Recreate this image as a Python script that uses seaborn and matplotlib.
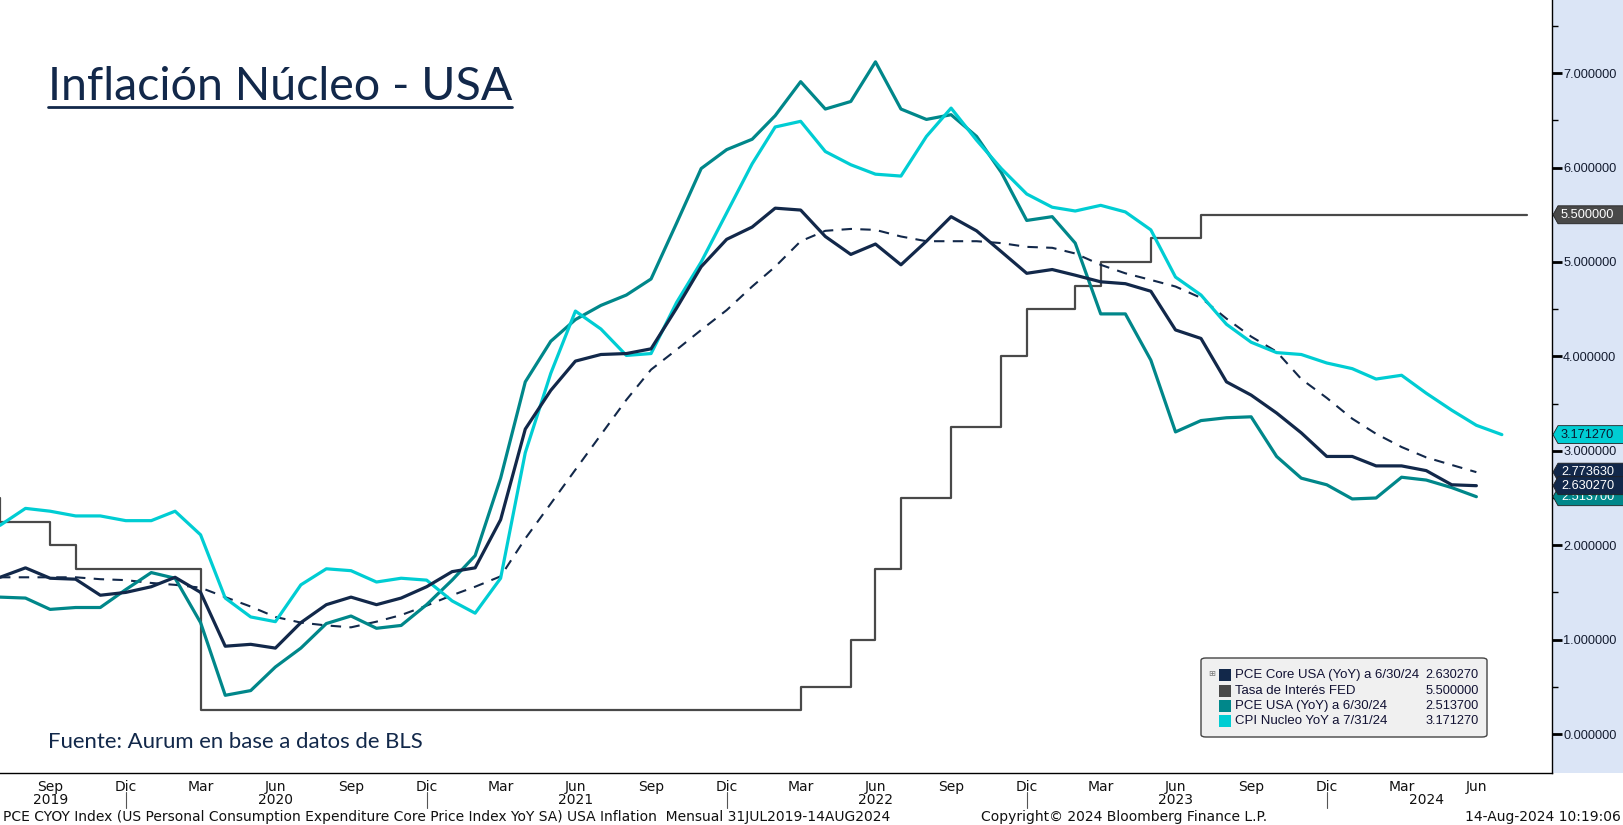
import numpy as np
import pandas as pd
import matplotlib
matplotlib.use("Agg")
import matplotlib.pyplot as plt
import matplotlib.dates as mdates
import matplotlib.transforms as mtransforms
from matplotlib.patches import Rectangle, Polygon, FancyBboxPatch
from matplotlib.lines import Line2D
from matplotlib import font_manager
import seaborn as sns

# ---------------- data ----------------
months = pd.date_range("2019-07-31", periods=61, freq="ME")          # Jul 2019 .. Jul 2024
fed_dates = pd.date_range("2019-06-30", periods=63, freq="ME")       # Jun 2019 .. Aug 2024

pce_core = [1.66, 1.76, 1.65, 1.64, 1.47, 1.50, 1.56, 1.66, 1.50, 0.93,
            0.95, 0.91, 1.18, 1.37, 1.45, 1.37, 1.44, 1.56, 1.72, 1.76,
            2.27, 3.23, 3.64, 3.95, 4.02, 4.03, 4.08, 4.51, 4.95, 5.24,
            5.37, 5.57, 5.55, 5.27, 5.08, 5.19, 4.97, 5.22, 5.48, 5.33,
            5.11, 4.88, 4.92, 4.86, 4.79, 4.77, 4.69, 4.28, 4.19, 3.73,
            3.59, 3.40, 3.19, 2.94, 2.94, 2.84, 2.84, 2.79, 2.64, 2.63027]

pce = [1.45, 1.44, 1.32, 1.34, 1.34, 1.53, 1.71, 1.65, 1.18, 0.41,
       0.46, 0.71, 0.91, 1.17, 1.25, 1.12, 1.15, 1.37, 1.63, 1.89,
       2.71, 3.73, 4.16, 4.39, 4.54, 4.65, 4.82, 5.41, 5.99, 6.19,
       6.30, 6.55, 6.91, 6.62, 6.70, 7.12, 6.62, 6.51, 6.56, 6.33,
       5.95, 5.44, 5.48, 5.20, 4.45, 4.45, 3.96, 3.20, 3.32, 3.35,
       3.36, 2.94, 2.71, 2.64, 2.49, 2.50, 2.72, 2.69, 2.61, 2.5137]

cpi_core = [2.21, 2.39, 2.36, 2.31, 2.31, 2.26, 2.26, 2.36, 2.11, 1.44,
            1.24, 1.19, 1.58, 1.75, 1.73, 1.61, 1.65, 1.63, 1.41, 1.28,
            1.65, 2.98, 3.82, 4.48, 4.29, 4.01, 4.03, 4.57, 5.00, 5.52,
            6.04, 6.43, 6.49, 6.17, 6.03, 5.93, 5.91, 6.33, 6.63, 6.29,
            5.99, 5.72, 5.58, 5.54, 5.60, 5.53, 5.34, 4.84, 4.65, 4.34,
            4.15, 4.04, 4.02, 3.93, 3.87, 3.76, 3.80, 3.61, 3.43, 3.27,
            3.17127]

pce_core_trend = [1.66, 1.66, 1.66, 1.66, 1.64, 1.63, 1.60, 1.58, 1.55, 1.45,
                  1.35, 1.24, 1.18, 1.15, 1.13, 1.19, 1.26, 1.36, 1.47, 1.56,
                  1.67, 2.07, 2.44, 2.80, 3.17, 3.54, 3.86, 4.07, 4.28, 4.49,
                  4.74, 4.95, 5.22, 5.33, 5.35, 5.34, 5.27, 5.22, 5.22, 5.22,
                  5.20, 5.16, 5.15, 5.09, 4.97, 4.88, 4.81, 4.74, 4.62, 4.40,
                  4.21, 4.05, 3.76, 3.56, 3.34, 3.18, 3.04, 2.93, 2.85, 2.77363]

fed_rate = ([2.50, 2.25, 2.25, 2.00, 1.75, 1.75, 1.75, 1.75, 1.75]
            + [0.25] * 24
            + [0.50, 0.50, 1.00, 1.75, 2.50, 2.50, 3.25, 3.25, 4.00, 4.50,
               4.50, 4.75, 5.00, 5.00, 5.25, 5.25]
            + [5.50] * 14)

series_names = ["PCE Core USA (YoY) a 6/30/24", "Tasa de Interés FED",
                "PCE USA (YoY) a 6/30/24", "CPI Nucleo YoY a 7/31/24"]
last_values = ["2.630270", "5.500000", "2.513700", "3.171270"]
month_names_es = {3: "Mar", 6: "Jun", 9: "Sep", 12: "Dic"}

# ---------------- style ----------------
NAVY = "#12284a"
TEAL = "#00878a"
CYAN = "#00cdd3"
GRAY = "#494949"
PANEL = "#dbe5f6"

sns.set_style("white")
names = {f.name for f in font_manager.fontManager.ttflist}
NARROW = "Liberation Sans Narrow" if "Liberation Sans Narrow" in names else "DejaVu Sans"
LIB = "Liberation Sans" if "Liberation Sans" in names else "DejaVu Sans"
plt.rcParams["font.family"] = [LIB, "DejaVu Sans"]

W, H = 1624, 825
fig = plt.figure(figsize=(W / 100, H / 100), dpi=100)
ax_l, ax_r, ax_t, ax_b = 0, 1552, 0, 773
ax = fig.add_axes([ax_l / W, 1 - ax_b / H, (ax_r - ax_l) / W, (ax_b - ax_t) / H])
ax.set_facecolor("white")

# right panel background (behind everything)
fig.patches.append(Rectangle((ax_r / W, 1 - ax_b / H), 1 - ax_r / W, ax_b / H,
                             transform=fig.transFigure, facecolor=PANEL,
                             edgecolor="none", zorder=-5))

# ---------------- lines ----------------
sns.lineplot(x=fed_dates, y=fed_rate, ax=ax, color=GRAY, linewidth=1.6,
             drawstyle="steps-post", zorder=2)
sns.lineplot(x=months[:60], y=pce_core_trend, ax=ax, color=NAVY, linewidth=1.5,
             linestyle=(0, (5, 4)), zorder=3)
sns.lineplot(x=months[:60], y=pce, ax=ax, color=TEAL, linewidth=2.3, zorder=4)
sns.lineplot(x=months, y=cpi_core, ax=ax, color=CYAN, linewidth=2.3, zorder=5)
sns.lineplot(x=months[:60], y=pce_core, ax=ax, color=NAVY, linewidth=2.3, zorder=6)

ax.set_xlim(pd.Timestamp("2019-07-31"), pd.Timestamp("2024-09-30"))
ax.set_ylim(-0.413, 7.775)
ax.set_xlabel("")
ax.set_ylabel("")

for s in ["top", "left"]:
    ax.spines[s].set_visible(False)
for s in ["right", "bottom"]:
    ax.spines[s].set_color("black")
    ax.spines[s].set_linewidth(1.0)

# y axis on the right
ax.yaxis.tick_right()
ax.set_yticks(np.arange(0, 8, 1))
ax.set_yticks(np.arange(0.5, 8, 1), minor=True)
ax.set_yticklabels([f"{v:.6f}" for v in np.arange(0, 8, 1)])
ax.tick_params(axis="y", which="major", length=7, width=2.0, colors="black",
               labelcolor="#141c30", labelsize=9.2, pad=1, direction="out")
ax.tick_params(axis="y", which="minor", length=4, width=1, color="black",
               direction="out")

# x axis: month ticks, quarter labels
all_months = pd.date_range("2019-07-31", "2024-09-30", freq="ME")
q_months = [d for d in all_months if d.month in month_names_es
            and d <= pd.Timestamp("2024-07-31")]
ax.set_xticks(q_months)
ax.set_xticklabels([month_names_es[d.month] for d in q_months])
ax.set_xticks(all_months, minor=True)
ax.tick_params(axis="x", which="both", length=4, width=1, color="black",
               direction="out", labelsize=10, pad=1, labelcolor="#111111")
for lab in ax.get_xticklabels():
    lab.set_fontfamily([NARROW, "DejaVu Sans"])

# year labels and separators
year_pos = {2019: pd.Timestamp("2019-09-30"), 2020: pd.Timestamp("2020-06-30"),
            2021: pd.Timestamp("2021-06-30"), 2022: pd.Timestamp("2022-06-30"),
            2023: pd.Timestamp("2023-06-30"), 2024: pd.Timestamp("2024-04-30")}
xform = mtransforms.blended_transform_factory(ax.transData, fig.transFigure)
for yr, d in year_pos.items():
    ax.text(d, 1 - 800 / H, str(yr), transform=xform, ha="center", va="center",
            fontsize=10, family=[NARROW, "DejaVu Sans"], color="#111111")
for d in [pd.Timestamp(f"{y}-12-31") for y in range(2019, 2024)]:
    ax.add_line(Line2D([mdates.date2num(d)] * 2, [1 - 792 / H, 1 - 808 / H],
                       transform=xform, color="#555555", linewidth=0.8,
                       clip_on=False))

# right value labels (drawn bottom to top)
yx = mtransforms.blended_transform_factory(ax.transAxes, ax.transData)
box_h = 0.19
x_tip, x_body, x_end = 1553 / ax_r, 1558 / ax_r, W / ax_r
labels = [(5.5, "5.500000", GRAY, "white"),
          (3.17127, "3.171270", CYAN, "#0a1a30"),
          (2.5137, "2.513700", TEAL, "white"),
          (2.77363, "2.773630", NAVY, "white"),
          (2.63027, "2.630270", NAVY, "white")]
for i, (v, txt, fc, tc) in enumerate(labels):
    poly = Polygon([(x_tip, v), (x_body, v + box_h / 2), (x_end, v + box_h / 2),
                    (x_end, v - box_h / 2), (x_body, v - box_h / 2)],
                   closed=True, transform=yx, facecolor=fc, edgecolor="#222222",
                   linewidth=0.6, clip_on=False, zorder=10 + 2 * i)
    ax.add_patch(poly)
    ax.text(1561 / ax_r, v, txt, transform=yx, ha="left", va="center",
            fontsize=9.2, color=tc, zorder=11 + 2 * i, clip_on=False)

# ---------------- title and source ----------------
title = fig.text(48 / W, 1 - 100 / H, "Inflación Núcleo - USA", fontsize=33.5,
                 family=["Lato", "DejaVu Sans"], color=NAVY, ha="left",
                 va="baseline")
fig.canvas.draw()
bb = title.get_window_extent()
fig.add_artist(Line2D([bb.x0 / W, bb.x1 / W], [1 - 107 / H] * 2,
                      transform=fig.transFigure, color=NAVY, linewidth=2))

fig.text(48 / W, 1 - 742 / H, "Fuente: Aurum en base a datos de BLS",
         fontsize=15.9, family=["Lato", "DejaVu Sans"], color=NAVY,
         ha="left", va="center")

# ---------------- legend box ----------------
lx0, ly0, lx1, ly1 = 1201, 658, 1487, 737
fig.patches.append(FancyBboxPatch((lx0 / W, 1 - ly1 / H), (lx1 - lx0) / W,
                                  (ly1 - ly0) / H, boxstyle="round,pad=0,rounding_size=0.003",
                                  transform=fig.transFigure, facecolor="#f0f0f0",
                                  edgecolor="#444444", linewidth=1, zorder=20))
row_y = [675, 691, 706, 721]
row_cols = [NAVY, GRAY, TEAL, CYAN]
for ry, col, name, val in zip(row_y, row_cols, series_names, last_values):
    fig.patches.append(Rectangle((1219 / W, 1 - (ry + 6) / H), 12 / W, 12 / H,
                                 transform=fig.transFigure, facecolor=col,
                                 edgecolor="none", zorder=21))
    fig.text(1235 / W, 1 - ry / H, name, fontsize=9.5, color="#111133",
             ha="left", va="center", zorder=22)
    fig.text(1479 / W, 1 - ry / H, val, fontsize=9.2, color="#111133",
             ha="right", va="center", zorder=22)
fig.text(1212 / W, 1 - 674 / H, "⊞", fontsize=6, color="#777777",
         family=["DejaVu Sans"], ha="center", va="center", zorder=22)

# ---------------- footer ----------------
fig.text(3 / W, 1 - 817 / H,
         "PCE CYOY Index (US Personal Consumption Expenditure Core Price Index YoY SA) USA Inflation  Mensual 31JUL2019-14AUG2024",
         fontsize=10, family=[NARROW, "DejaVu Sans"], color="#111111",
         ha="left", va="center")
fig.text(1124 / W, 1 - 817 / H, "Copyright© 2024 Bloomberg Finance L.P.",
         fontsize=10, family=[NARROW, "DejaVu Sans"], color="#111111",
         ha="center", va="center")
fig.text(1621 / W, 1 - 817 / H, "14-Aug-2024 10:19:06",
         fontsize=10, family=[NARROW, "DejaVu Sans"], color="#111111",
         ha="right", va="center")

fig.savefig("out.png", dpi=100, facecolor="white")
